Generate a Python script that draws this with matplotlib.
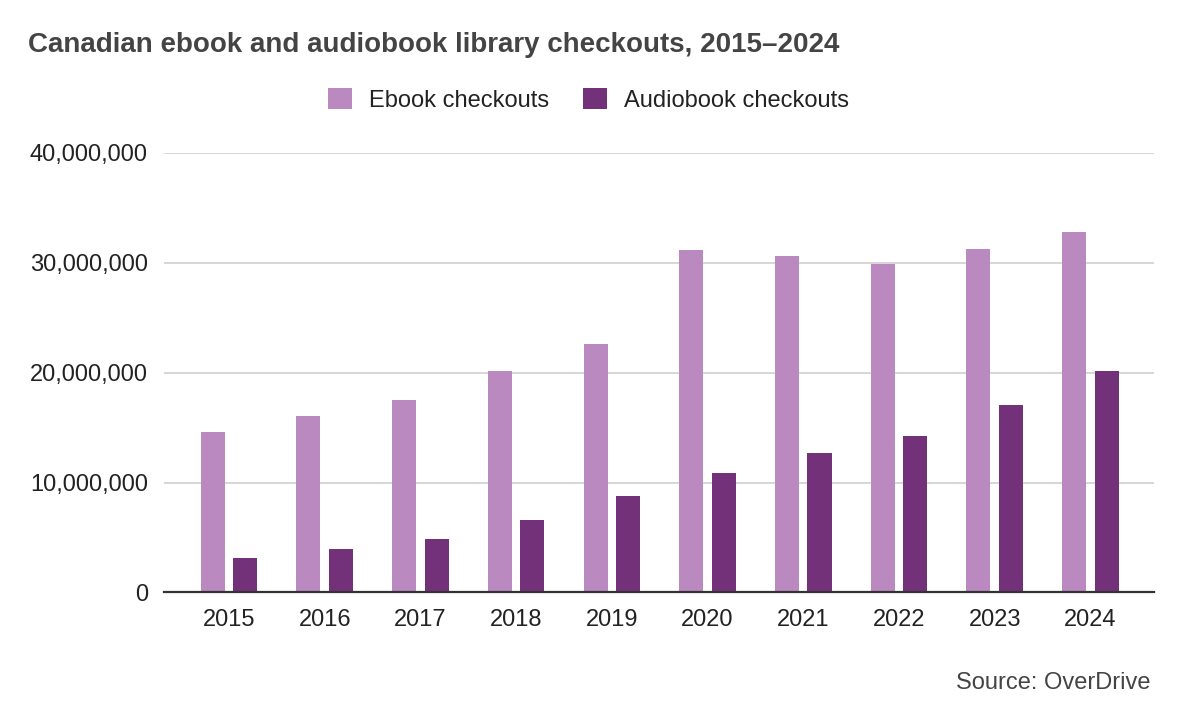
import matplotlib
matplotlib.use("Agg")
import matplotlib.pyplot as plt
from matplotlib.patches import Patch
from matplotlib.ticker import FuncFormatter
import numpy as np

years = ["2015", "2016", "2017", "2018", "2019", "2020", "2021", "2022", "2023", "2024"]
ebook = [14.6e6, 16.1e6, 17.5e6, 20.2e6, 22.6e6, 31.15e6, 30.6e6, 29.9e6, 31.3e6, 32.8e6]
audio = [3.1e6, 4.0e6, 4.9e6, 6.6e6, 8.8e6, 10.9e6, 12.7e6, 14.2e6, 17.1e6, 20.2e6]
yticks = [0, 10e6, 20e6, 30e6, 40e6]

EBOOK_C = "#BA89C0"
AUDIO_C = "#723178"

plt.rcParams['font.family'] = ['Liberation Sans', 'DejaVu Sans']

fig = plt.figure(figsize=(11.82, 7.26), dpi=100)
ax = fig.add_axes([0.1387, 0.1839, 0.838, 0.6054])

x = np.arange(len(years))
w = 0.251
off = 0.17
ax.bar(x - off, ebook, width=w, color=EBOOK_C, zorder=3, label="Ebook checkouts")
ax.bar(x + off, audio, width=w, color=AUDIO_C, zorder=3, label="Audiobook checkouts")

ax.set_xlim(-0.68, 9.67)
ax.set_ylim(0, 40e6)
ax.set_yticks(yticks)
ax.yaxis.set_major_formatter(FuncFormatter(lambda v, p: f"{int(v):,}"))
ax.set_xticks(x)
ax.set_xticklabels(years)
ax.tick_params(axis='both', length=0, labelsize=17, colors="#222222")
ax.tick_params(axis='y', pad=11.5)
ax.tick_params(axis='x', pad=12)
for s in ax.spines.values():
    s.set_visible(False)
ax.grid(axis='y', color="#cccccc", linewidth=1.1, zorder=0)
ax.set_axisbelow(True)
ax.axhline(0, color="#333333", linewidth=1.6, zorder=4, clip_on=False)

fig.text(28/1182, 1 - 45.5/726, "Canadian ebook and audiobook library checkouts, 2015\u20132024",
         fontsize=20, fontweight='bold', color="#444444", ha='left', va='center')

handles = [Patch(facecolor=EBOOK_C, edgecolor='none'), Patch(facecolor=AUDIO_C, edgecolor='none')]
fig.legend(handles, ["Ebook checkouts", "Audiobook checkouts"], loc='center',
           bbox_to_anchor=(0.498, 1 - 100/726), ncol=2, frameon=False, fontsize=17,
           handlelength=1.0, handleheight=1.0, handletextpad=0.72, columnspacing=1.44,
           labelcolor="#222222")

fig.text(1151/1182, 1 - 683/726, "Source: OverDrive", fontsize=17, color="#444444",
         ha='right', va='center')

fig.savefig("out.png", dpi=100)
